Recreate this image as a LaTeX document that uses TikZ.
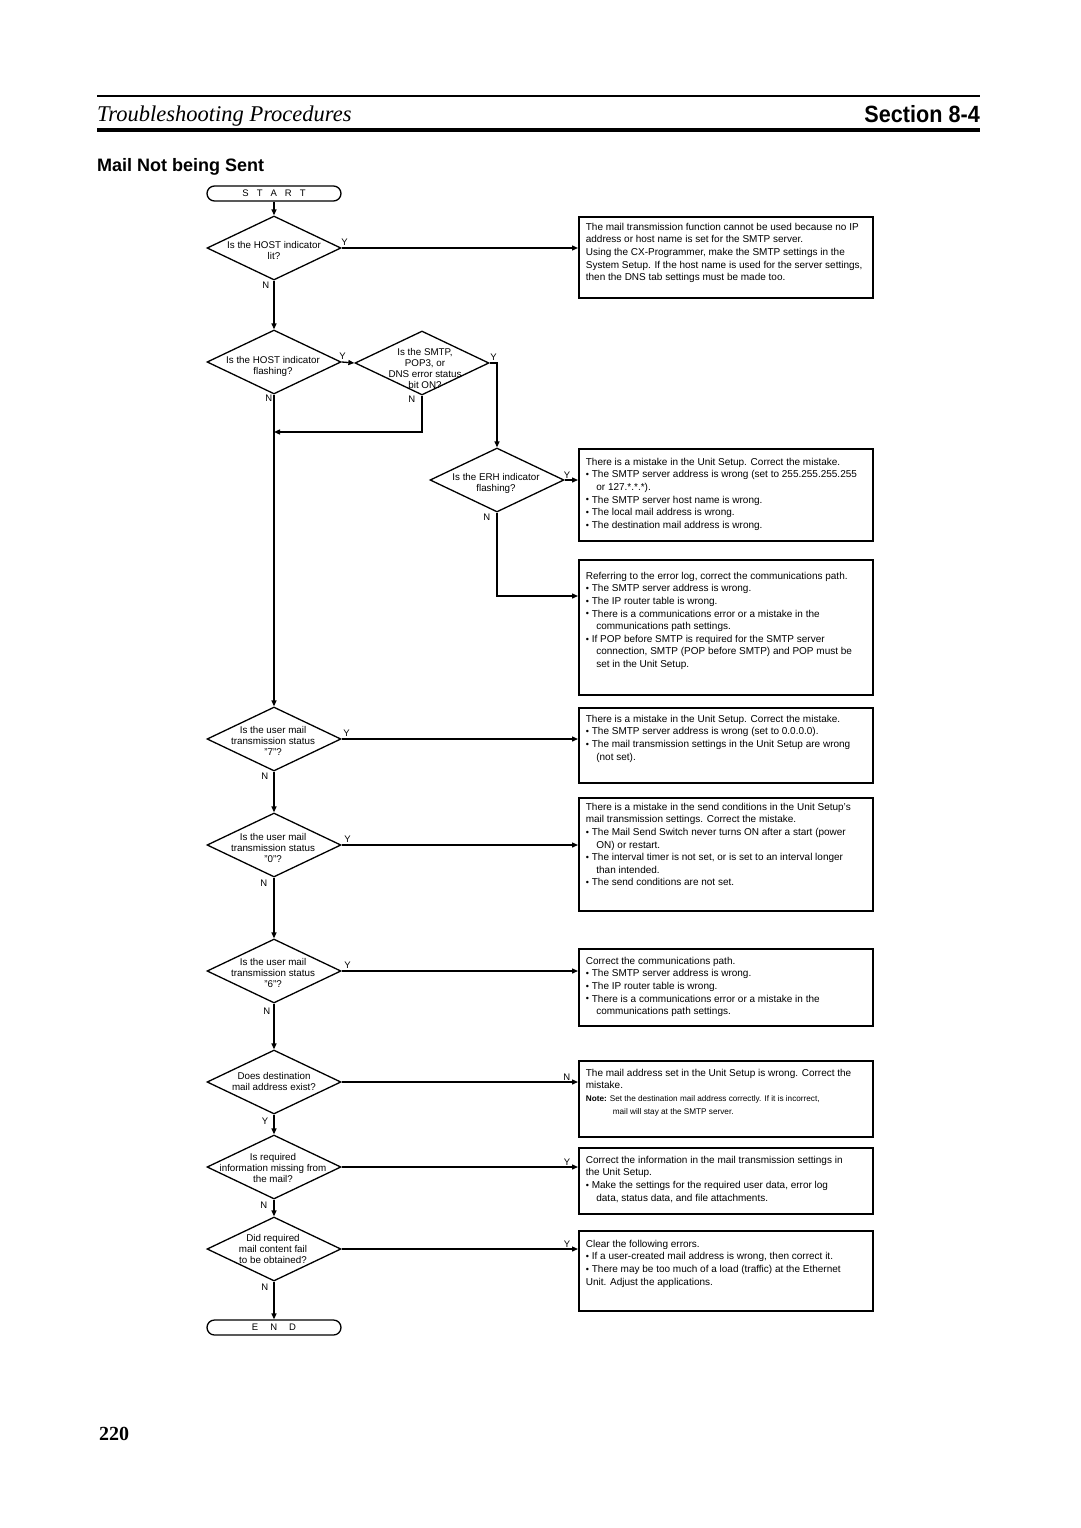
\documentclass[tikz,border=0pt]{standalone}
\usepackage{fontspec}
\setmainfont{Liberation Sans}
\newfontfamily\hdrserif{Liberation Serif}
\newfontfamily\hdrsans[FakeStretch=0.92]{Liberation Sans}
\usetikzlibrary{shapes.geometric,arrows.meta,calc}
\newcommand\bx[4]{\parbox[c][#2pt][t]{#1pt}{\raggedright\rightskip=-15pt plus 1fil\rule{0pt}{#3pt}#4}}
\newcommand\bdot{\makebox[6pt][l]{\raisebox{0.2pt}{\fontsize{9}{6}\selectfont •}}}
\newcommand\bitem{\par\hangindent=10.5pt\hangafter=1\bdot}
\newcommand\bflat{\par\bdot}
\begin{document}
\begin{tikzpicture}[x=1pt,y=-1pt,
  ln/.style={line width=1.3pt},
  arr/.style={line width=1.3pt,-{Triangle[length=6pt,width=5pt]}},
  box/.style={draw,line width=1.7pt,anchor=north west,inner xsep=7pt,inner ysep=0pt,font=\fontsize{10}{12.6}\selectfont},
  dia/.style={diamond,draw,line width=1.3pt,minimum width=134pt,minimum height=64pt,inner sep=0pt},
  dtext/.style={align=center,inner sep=0pt,font=\fontsize{9.8}{11}\selectfont},
  term/.style={draw,line width=1.3pt,rounded corners=7.5pt,minimum width=134pt,minimum height=15pt,inner sep=0pt,font=\fontsize{9.5}{10}\selectfont},
  lab/.style={inner sep=0.5pt,font=\fontsize{9.5}{10}\selectfont}]

\useasboundingbox (0,0) rectangle (1080,1528);
\fill[white] (0,0) rectangle (1080,1528);

% header
\draw[line width=1.5pt] (97,96) -- (980,96);
\draw[line width=4pt] (97,130) -- (980,130);
\node[anchor=base west,inner sep=0pt,font=\hdrserif\itshape\fontsize{22.5}{22.5}\selectfont] (hdr) at (97,121) {Troubleshooting Procedures};
\node[anchor=base east,inner sep=0pt,font=\hdrsans\bfseries\fontsize{23.5}{23.5}\selectfont] (sec) at (980,122) {Section 8-4};
\node[anchor=base west,inner sep=0pt,font=\bfseries\fontsize{18}{18}\selectfont] (title) at (97,171) {Mail Not being Sent};
\node[anchor=base west,inner sep=0pt,font=\hdrserif\bfseries\fontsize{20}{20}\selectfont] (pg) at (99,1440) {220};

% terminals
\node[term] (start) at (274,193.5) {S\hspace{8pt}T\hspace{8pt}A\hspace{8pt}R\hspace{8pt}T};
\node[term] (end) at (274,1327.5) {E\hspace{12pt}N\hspace{12pt}D};

% diamonds
\node[dia] (d1) at (274,248) {};
\node[dtext] (t1) at (274,250) {Is the HOST indicator\\lit?};
\node[dia] (d2) at (274,362) {};
\node[dtext] (t2) at (273,366) {Is the HOST indicator\\flashing?};
\node[dia] (d3) at (422,363) {};
\node[dtext] (t3) at (425,368) {Is the SMTP,\\POP3, or\\DNS error status\\bit ON?};
\node[dia] (d4) at (497,480) {};
\node[dtext] (t4) at (496,483) {Is the ERH indicator\\flashing?};
\node[dia] (d5) at (274,739) {};
\node[dtext] (t5) at (273,741) {Is the user mail\\transmission status\\"7"?};
\node[dia] (d6) at (274,845) {};
\node[dtext] (t6) at (273,848) {Is the user mail\\transmission status\\"0"?};
\node[dia] (d7) at (274,971) {};
\node[dtext] (t7) at (273,973) {Is the user mail\\transmission status\\"6"?};
\node[dia] (d8) at (274,1082) {};
\node[dtext] (t8) at (274,1081) {Does destination\\mail address exist?};
\node[dia] (d9) at (274,1167) {};
\node[dtext] (t9) at (273,1168) {Is required\\information missing from\\the mail?};
\node[dia] (d10) at (274,1249) {};
\node[dtext] (t10) at (273,1249) {Did required\\mail content fail\\to be obtained?};

% boxes
\node[box] (b1) at (578,216) {\bx{280}{81}{13.5}{The mail transmission function cannot be used because no IP\newline address or host name is set for the SMTP server.\newline Using the CX-Programmer, make the SMTP settings in the\newline System Setup. If the host name is used for the server settings,\newline then the DNS tab settings must be made too.}};
\node[box] (b2) at (578,448) {\bx{280}{92}{16.5}{There is a mistake in the Unit Setup. Correct the mistake.\bitem The SMTP server address is wrong (set to 255.255.255.255\newline or 127.*.*.*).\bitem The SMTP server host name is wrong.\bitem The local mail address is wrong.\bitem The destination mail address is wrong.}};
\node[box] (b3) at (578,559) {\bx{280}{135}{19.5}{Referring to the error log, correct the communications path.\bitem The SMTP server address is wrong.\bitem The IP router table is wrong.\bitem There is a communications error or a mistake in the\newline communications path settings.\bitem If POP before SMTP is required for the SMTP server\newline connection, SMTP (POP before SMTP) and POP must be\newline set in the Unit Setup.}};
\node[box] (b4) at (578,707) {\bx{280}{75}{14.5}{There is a mistake in the Unit Setup. Correct the mistake.\bitem The SMTP server address is wrong (set to 0.0.0.0).\bitem The mail transmission settings in the Unit Setup are wrong\newline (not set).}};
\node[box] (b5) at (578,797) {\bx{280}{113}{12.5}{There is a mistake in the send conditions in the Unit Setup's\newline mail transmission settings. Correct the mistake.\bitem The Mail Send Switch never turns ON after a start (power\newline ON) or restart.\bitem The interval timer is not set, or is set to an interval longer\newline than intended.\bitem The send conditions are not set.}};
\node[box] (b6) at (578,948) {\bx{280}{77}{15.5}{Correct the communications path.\bitem The SMTP server address is wrong.\bitem The IP router table is wrong.\bitem There is a communications error or a mistake in the\newline communications path settings.}};
\node[box] (b7) at (578,1060) {\bx{280}{76}{15.5}{The mail address set in the Unit Setup is wrong. Correct the\newline mistake.\par{\fontsize{8.2}{12.8}\selectfont\hangindent=27pt\hangafter=1\textbf{Note:} Set the destination mail address correctly. If it is incorrect,\newline mail will stay at the SMTP server.\par}}};
\node[box] (b8) at (578,1147) {\bx{280}{66}{15.5}{Correct the information in the mail transmission settings in\newline the Unit Setup.\bitem Make the settings for the required user data, error log\newline data, status data, and file attachments.}};
\node[box] (b9) at (578,1230) {\bx{280}{80}{16.5}{Clear the following errors.\bitem If a user-created mail address is wrong, then correct it.\bflat There may be too much of a load (traffic) at the Ethernet\newline Unit. Adjust the applications.}};

% junction
\coordinate (j1) at (274,432);

% connectors
\draw[arr] (start.south) -- (d1.north);
\draw[arr] (d1.south) -- (d2.north);
\draw[arr] (d1.east) -- (d1.east -| b1.west);
\draw[arr] (d2.east) -- (d3.west);
\draw[arr] (d2.south) -- (d5.north);
\draw[arr] (d3.south) |- (j1);
\draw[arr] (d3.east) -| (d4.north);
\draw[arr] (d4.east) -- (d4.east -| b2.west);
\draw[arr] (d4.south) |- ([yshift=-37pt]b3.north west);
\draw[arr] (d5.east) -- (d5.east -| b4.west);
\draw[arr] (d5.south) -- (d6.north);
\draw[arr] (d6.east) -- (d6.east -| b5.west);
\draw[arr] (d6.south) -- (d7.north);
\draw[arr] (d7.east) -- (d7.east -| b6.west);
\draw[arr] (d7.south) -- (d8.north);
\draw[arr] (d8.east) -- (d8.east -| b7.west);
\draw[arr] (d8.south) -- (d9.north);
\draw[arr] (d9.east) -- (d9.east -| b8.west);
\draw[arr] (d9.south) -- (d10.north);
\draw[arr] (d10.east) -- (d10.east -| b9.west);
\draw[arr] (d10.south) -- (end.north);

% labels
\node[lab,anchor=south west] (y1) at ([xshift=-1pt,yshift=2pt]d1.east) {Y};
\node[lab,anchor=north east] (n1) at ([xshift=-4pt,yshift=-1pt]d1.south) {N};
\node[lab,anchor=south west] (y2) at ([xshift=-3pt,yshift=2pt]d2.east) {Y};
\node[lab,anchor=north east] (n2) at ([xshift=-1pt,yshift=0pt]d2.south) {N};
\node[lab,anchor=south west] (y3) at ([xshift=0pt,yshift=2pt]d3.east) {Y};
\node[lab,anchor=north east] (n3) at ([xshift=-6pt,yshift=0pt]d3.south) {N};
\node[lab,anchor=south east] (y4) at ([xshift=-7pt,yshift=1pt]d4.east -| b2.west) {Y};
\node[lab,anchor=north east] (n4) at ([xshift=-6pt,yshift=-1pt]d4.south) {N};
\node[lab,anchor=south west] (y5) at ([xshift=1pt,yshift=2pt]d5.east) {Y};
\node[lab,anchor=north east] (n5) at ([xshift=-5pt,yshift=-1pt]d5.south) {N};
\node[lab,anchor=south west] (y6) at ([xshift=2pt,yshift=2pt]d6.east) {Y};
\node[lab,anchor=north east] (n6) at ([xshift=-6pt,yshift=-2pt]d6.south) {N};
\node[lab,anchor=south west] (y7) at ([xshift=2pt,yshift=2pt]d7.east) {Y};
\node[lab,anchor=north east] (n7) at ([xshift=-3pt,yshift=-4pt]d7.south) {N};
\node[lab,anchor=south east] (n8) at ([xshift=-7pt,yshift=1pt]d8.east -| b7.west) {N};
\node[lab,anchor=north east] (y8) at ([xshift=-5pt,yshift=-3pt]d8.south) {Y};
\node[lab,anchor=south east] (y9) at ([xshift=-7pt,yshift=1pt]d9.east -| b8.west) {Y};
\node[lab,anchor=north east] (n9) at ([xshift=-6pt,yshift=-2pt]d9.south) {N};
\node[lab,anchor=south east] (y10) at ([xshift=-7pt,yshift=1pt]d10.east -| b9.west) {Y};
\node[lab,anchor=north east] (n10) at ([xshift=-5pt,yshift=-2pt]d10.south) {N};
\end{tikzpicture}
\end{document}
